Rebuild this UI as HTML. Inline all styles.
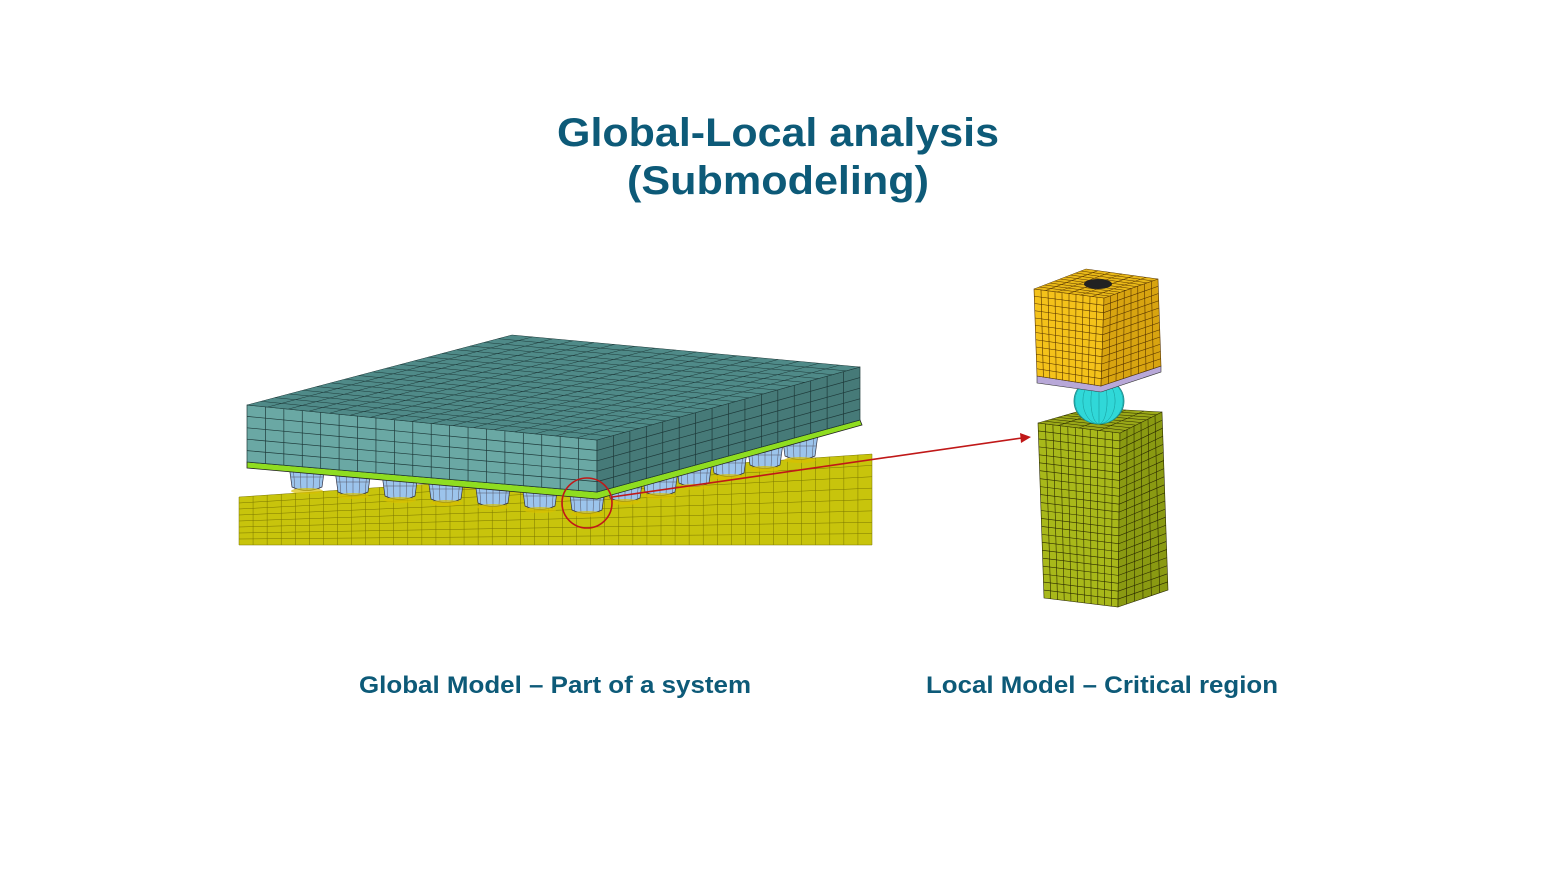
<!DOCTYPE html>
<html><head><meta charset="utf-8"><style>
html,body{margin:0;padding:0;background:#fff;}
svg{display:block;}
text{font-family:"Liberation Sans",Arial,sans-serif;font-weight:bold;fill:#0d5a78;}
</style></head><body>
<svg id="s" width="1558" height="875" viewBox="0 0 1558 875" xmlns="http://www.w3.org/2000/svg">
<text x="778" y="146" font-size="40" text-anchor="middle" textLength="442" lengthAdjust="spacingAndGlyphs">Global-Local analysis</text>
<text x="778" y="194" font-size="40" text-anchor="middle" textLength="302" lengthAdjust="spacingAndGlyphs">(Submodeling)</text>
<text x="555" y="693" font-size="24" text-anchor="middle" textLength="392" lengthAdjust="spacingAndGlyphs">Global Model – Part of a system</text>
<text x="1102" y="693" font-size="24" text-anchor="middle" textLength="352" lengthAdjust="spacingAndGlyphs">Local Model – Critical region</text>
<g id="g"></g>
</svg>
<script>
var g=document.getElementById('g'),NS='http://www.w3.org/2000/svg';
function el(t,a){var e=document.createElementNS(NS,t);for(var k in a)e.setAttribute(k,a[k]);g.appendChild(e);return e;}
function lerp(a,b,t){return [a[0]+(b[0]-a[0])*t,a[1]+(b[1]-a[1])*t];}
function quad(p,fill,nu,nv,stroke,sw){
 el('polygon',{points:p.map(function(q){return q.join(',')}).join(' '),fill:fill,stroke:stroke||'#222',"stroke-width":sw||0.8});
 for(var i=1;i<nu;i++){var a=lerp(p[0],p[1],i/nu),b=lerp(p[3],p[2],i/nu);el('line',{x1:a[0],y1:a[1],x2:b[0],y2:b[1],stroke:stroke||'#222',"stroke-width":sw||0.6});}
 for(var j=1;j<nv;j++){var a=lerp(p[0],p[3],j/nv),b=lerp(p[1],p[2],j/nv);el('line',{x1:a[0],y1:a[1],x2:b[0],y2:b[1],stroke:stroke||'#222',"stroke-width":sw||0.6});}
}
quad([[239,497],[872,454],[872,545],[239,545]],'#c8c40c',45,8,'#7a7600',0.5);
function ball(cx,cy){
 el('path',{d:'M'+(cx-18)+','+(cy-16)+' L'+(cx+18)+','+(cy-16)+' L'+(cx+15)+','+(cy+6)+' Q'+cx+','+(cy+13)+' '+(cx-15)+','+(cy+6)+' Z',fill:'#9cc4ec',stroke:'#334',"stroke-width":0.7});
 for(var k=-2;k<=2;k++)el('line',{x1:cx+k*7,y1:cy-16,x2:cx+k*6,y2:cy+9,stroke:'#556','stroke-width':0.5});
 el('line',{x1:cx-16,y1:cy-4,x2:cx+16,y2:cy-4,stroke:'#556','stroke-width':0.5});
 el('ellipse',{cx:cx,cy:cy+10,rx:16,ry:3,fill:'#d8c000',opacity:0.7});
}
var bb=[[800,450],[765,459],[729,467],[694,477],[660,486],[625,492]];
bb.forEach(function(b){ball(b[0],b[1]);});
var fb=[[307,481],[353,486],[400,490],[446,493],[493,497],[540,500],[587,504]];
fb.forEach(function(b){ball(b[0],b[1]);});
el('polygon',{points:'247,462 597,492 860,420 862,425 597,499 247,468',fill:'#8fdd20',stroke:'#222','stroke-width':0.8});
quad([[247,405],[597,440],[597,492],[247,462]],'#6aa8a4',19,5,'#1e3a3a',0.7);
quad([[597,440],[860,367],[860,420],[597,492]],'#467a78',16,5,'#1e3a3a',0.7);
quad([[247,405],[512,335],[860,367],[597,440]],'#4f8a88',19,17,'#1e3a3a',0.5);
el('circle',{cx:587,cy:503,r:25,fill:'none',stroke:'#c01818','stroke-width':1.6});
el('line',{x1:612,y1:497,x2:1022,y2:438,stroke:'#c01818','stroke-width':1.6});
el('polygon',{points:'1031,437 1020,433 1021,443',fill:'#c01818'});
quad([[1038,423],[1120,433],[1118,607],[1044,598]],'#a8b81a',11,22,'#2a2a00',0.6);
quad([[1120,433],[1162,412],[1168,590],[1118,607]],'#8a9a12',6,22,'#2a2a00',0.6);
quad([[1038,423],[1090,408],[1162,412],[1120,433]],'#9aa818',8,4,'#2a2a00',0.5);
el('ellipse',{cx:1099,cy:401,rx:25,ry:23,fill:'#30d8d8',stroke:'#1a8080','stroke-width':0.8});
for(var k=-3;k<=3;k++)el('ellipse',{cx:1099,cy:401,rx:Math.abs(k)*8+0.1,ry:23,fill:'none',stroke:'#1aa0a0','stroke-width':0.4});
el('polygon',{points:'1037,376 1101,386 1161,366 1161,372 1101,392 1037,383',fill:'#b8a8d8',stroke:'#333','stroke-width':0.6});
quad([[1034,289],[1104,298],[1101,386],[1037,376]],'#f4c21a',10,12,'#553300',0.6);
quad([[1104,298],[1158,279],[1161,366],[1101,386]],'#d8a410',8,12,'#553300',0.6);
quad([[1034,289],[1086,269],[1158,279],[1104,298]],'#e8b818',10,6,'#553300',0.5);
el('ellipse',{cx:1098,cy:284,rx:14,ry:5,fill:'#222'});
</script>
</body></html>
